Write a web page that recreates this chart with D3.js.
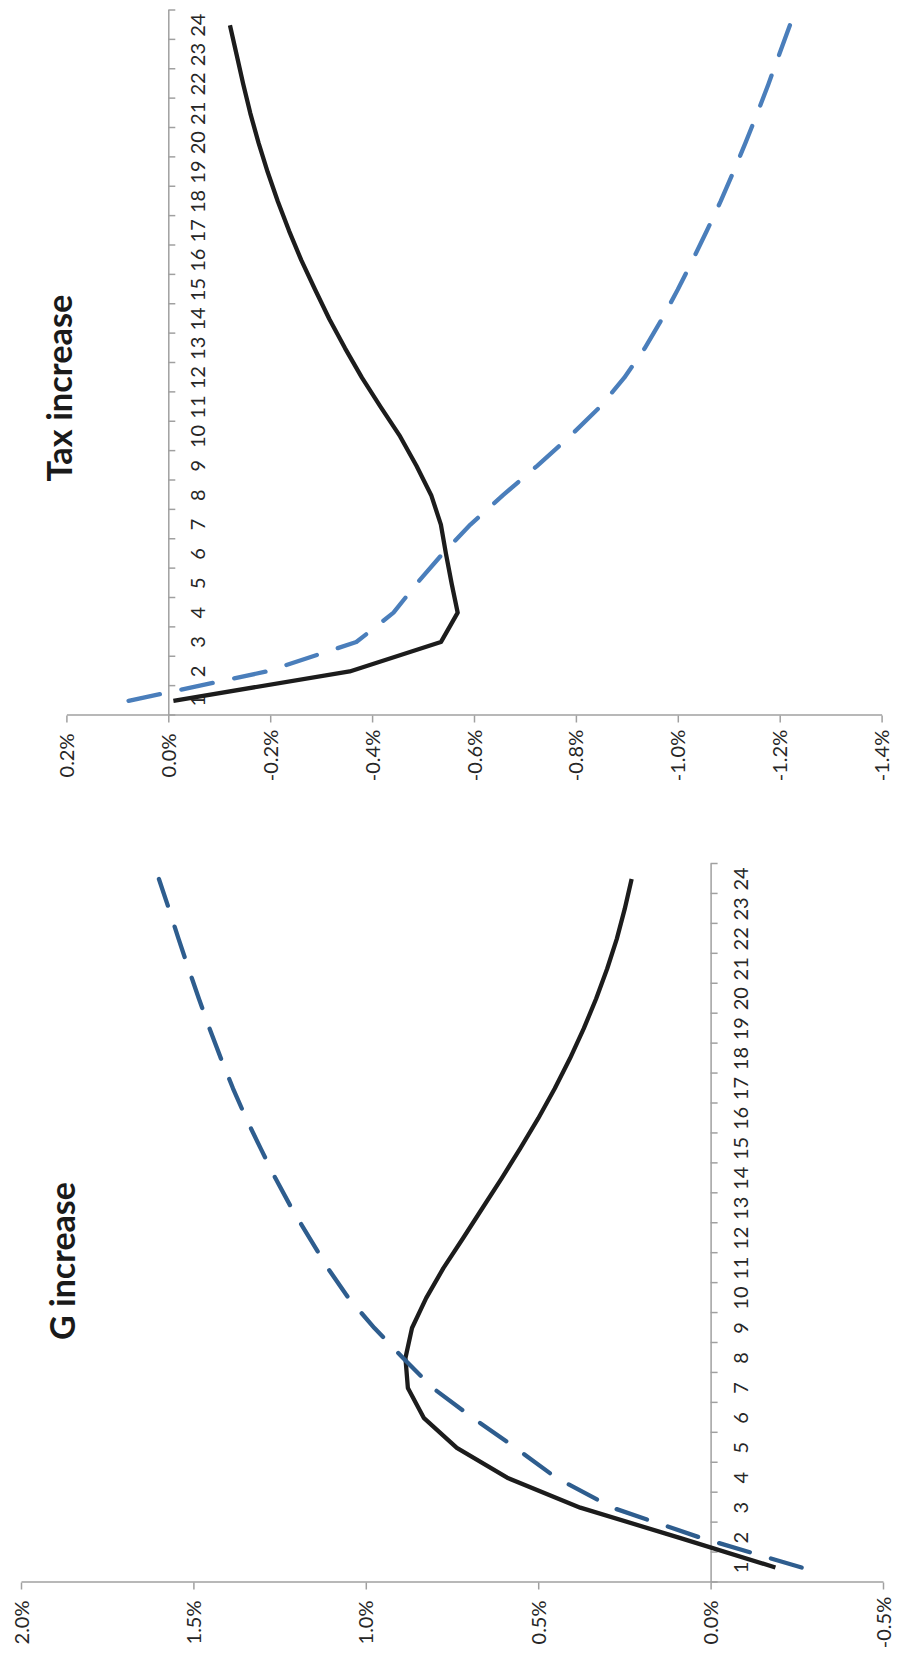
<!DOCTYPE html>
<html><head><meta charset="utf-8">
<script src="https://cdn.jsdelivr.net/npm/d3@7"></script>
<style>html,body{margin:0;padding:0;background:#fff;} svg{display:block;}</style>
</head><body>
<script>
// Categories (periods)
const periods = d3.range(1, 25);

// G increase panel (values in %)
const gSolid = [-0.188, 0.092, 0.378, 0.590, 0.736, 0.832, 0.878, 0.885, 0.866, 0.825, 0.775, 0.718,
                0.662, 0.606, 0.552, 0.500, 0.452, 0.408, 0.368, 0.332, 0.300, 0.272, 0.249, 0.229];
const gDashed = [-0.264, 0.030, 0.285, 0.448, 0.566, 0.690, 0.806, 0.892, 0.975, 1.050, 1.110, 1.163,
                 1.215, 1.262, 1.305, 1.347, 1.385, 1.420, 1.453, 1.484, 1.514, 1.543, 1.571, 1.600];

// Tax increase panel (values in %)
const taxSolid = [-0.010, -0.356, -0.535, -0.568, -0.556, -0.545, -0.535, -0.516, -0.487, -0.455, -0.417, -0.380,
                  -0.347, -0.316, -0.288, -0.261, -0.237, -0.215, -0.195, -0.177, -0.161, -0.147, -0.134, -0.121];
const taxDashed = [0.078, -0.193, -0.369, -0.442, -0.488, -0.538, -0.593, -0.657, -0.724, -0.788, -0.847, -0.895,
                   -0.935, -0.969, -1.000, -1.029, -1.057, -1.084, -1.109, -1.133, -1.156, -1.178, -1.199, -1.220];

// Tick labels
const gTicks = [2.0, 1.5, 1.0, 0.5, 0.0, -0.5];
const taxTicks = [0.2, 0.0, -0.2, -0.4, -0.6, -0.8, -1.0, -1.2, -1.4];

const titles = ["Tax increase", "G increase"];

const svg = d3.select("body").append("svg").attr("width", 912).attr("height", 1668);

const AXIS = "#a0a0a0", TEXT = "#262626", FONT = "Lato, 'Open Sans', sans-serif";

function panel(cfg) {
  const W = cfg.bottom - cfg.top;   // category extent (original horizontal)
  const H = cfg.right - cfg.left;   // value extent (original vertical)
  const g = svg.append("g").attr("transform", `translate(${cfg.left},${cfg.bottom}) rotate(-90)`);

  const x = d3.scaleBand().domain(periods).range([0, W]);
  const xLin = d3.scaleLinear().domain([0, periods.length]).range([0, W]);
  const y = d3.scaleLinear().domain(cfg.domain).range([H, 0]);

  // value axis
  const va = g.append("g")
    .call(d3.axisLeft(y).tickValues(cfg.ticks).tickSize(7).tickSizeOuter(0)
      .tickFormat(d => d.toFixed(1) + "%"));
  va.selectAll("text").attr("x", -40).attr("text-anchor", "middle").attr("dy", "0.35em")
    .style("font-family", FONT).style("font-size", "20px").attr("fill", TEXT);

  // category axis ticks (between categories)
  g.append("g").attr("transform", `translate(0,${y(0)})`)
    .call(d3.axisBottom(xLin).tickValues(d3.range(0, periods.length + 1)).tickSize(7).tickSizeOuter(0).tickFormat(""));
  // category labels
  const cl = g.append("g").attr("transform", `translate(0,${y(0)})`)
    .call(d3.axisBottom(x).tickSize(0));
  cl.select(".domain").remove();
  cl.selectAll("text").attr("y", 30).attr("dy", "0.35em")
    .style("font-family", FONT).style("font-size", "20px").attr("fill", TEXT);

  g.selectAll(".domain").attr("stroke", AXIS).attr("stroke-width", 1.5);
  g.selectAll(".tick line").attr("stroke", AXIS).attr("stroke-width", 1.5);

  const line = d3.line().x((d, i) => x(periods[i]) + x.bandwidth() / 2).y(d => y(d));

  g.append("path").datum(cfg.solid).attr("d", line)
    .attr("fill", "none").attr("stroke", "#1c1c1c").attr("stroke-width", 4.3)
    .attr("stroke-linejoin", "round");
  g.append("path").datum(cfg.dashed).attr("d", line)
    .attr("fill", "none").attr("stroke", cfg.dashColor).attr("stroke-width", 4.3)
    .attr("stroke-linecap", "round").attr("stroke-linejoin", "round")
    .attr("stroke-dasharray", "32 22");

  // title
  const t = svg.append("text")
    .attr("transform", `translate(${cfg.titleX},${cfg.titleY}) rotate(-90)`)
    .attr("text-anchor", "middle")
    .style("font-family", FONT).style("font-weight", "bold").style("font-size", "34px")
    .attr("fill", "#1a1a1a").text(cfg.title);
  const len = t.node().getComputedTextLength();
  t.style("font-size", (34 * cfg.titleLen / len).toFixed(2) + "px");
}

panel({
  left: 66.4, right: 881.6, top: 10.5, bottom: 715.5,
  domain: [-1.4, 0.2], ticks: taxTicks,
  solid: taxSolid, dashed: taxDashed, dashColor: "#4a7ebb",
  title: titles[0], titleX: 72, titleY: 388, titleLen: 187
});

panel({
  left: 21, right: 883, top: 864, bottom: 1582.5,
  domain: [-0.5, 2.0], ticks: gTicks,
  solid: gSolid, dashed: gDashed, dashColor: "#2e5d8e",
  title: titles[1], titleX: 75, titleY: 1261, titleLen: 158
});
</script>
</body></html>
